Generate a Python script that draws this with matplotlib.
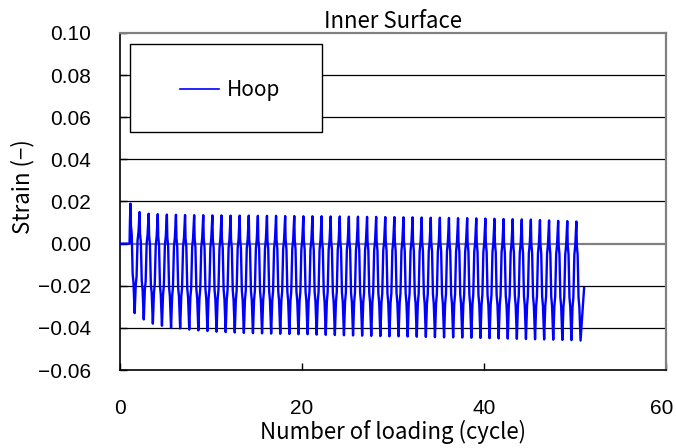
import matplotlib
matplotlib.use("Agg")
import matplotlib.pyplot as plt
import matplotlib.transforms as mtransforms
from matplotlib.patches import Rectangle
import numpy as np

# Hoop strain on the inner surface, one peak/trough pair per loading cycle
first_peak_cycle = 1.15
peak_strain = [
    0.0190, 0.0150, 0.0142, 0.0140, 0.0138, 0.0137, 0.0136, 0.0135, 0.0135, 0.0134,
    0.0134, 0.0133, 0.0133, 0.0133, 0.0132, 0.0132, 0.0132, 0.0131, 0.0131, 0.0130,
    0.0130, 0.0130, 0.0129, 0.0129, 0.0128, 0.0128, 0.0127, 0.0127, 0.0126, 0.0126,
    0.0125, 0.0125, 0.0124, 0.0123, 0.0123, 0.0122, 0.0121, 0.0121, 0.0120, 0.0119,
    0.0118, 0.0117, 0.0116, 0.0115, 0.0114, 0.0112, 0.0110, 0.0108, 0.0107, 0.0105,
]
trough_strain = [
    -0.0330, -0.0360, -0.0380, -0.0390, -0.0400, -0.0403, -0.0408, -0.0412, -0.0415, -0.0418,
    -0.0420, -0.0422, -0.0424, -0.0425, -0.0426, -0.0427, -0.0428, -0.0429, -0.0430, -0.0430,
    -0.0432, -0.0433, -0.0434, -0.0435, -0.0436, -0.0437, -0.0438, -0.0439, -0.0440, -0.0440,
    -0.0441, -0.0442, -0.0443, -0.0444, -0.0445, -0.0445, -0.0446, -0.0447, -0.0448, -0.0449,
    -0.0450, -0.0451, -0.0452, -0.0453, -0.0454, -0.0455, -0.0456, -0.0457, -0.0458, -0.0460,
]
end_strain = -0.021

# shape of one cycle: (phase, fraction between trough=0 and peak=1)
down_knots = [(0.00, 1.00), (0.05, 0.80), (0.14, 0.72), (0.24, 0.36), (0.33, 0.28), (0.46, 0.00)]
up_knots = [(0.58, 0.28), (0.67, 0.36), (0.78, 0.72), (0.88, 0.80)]

xs = [0.0, first_peak_cycle - 0.1, first_peak_cycle - 0.06]
ys = [0.0, 0.0, 0.010]
for k, (pk, tr) in enumerate(zip(peak_strain, trough_strain)):
    c0 = first_peak_cycle + k
    for ph, f in down_knots:
        xs.append(c0 + ph)
        ys.append(tr + f * (pk - tr))
    if k + 1 < len(peak_strain):
        nxt = peak_strain[k + 1]
        for ph, f in up_knots:
            xs.append(c0 + ph)
            ys.append(tr + f * (nxt - tr))
    else:
        xs.append(c0 + 0.85)
        ys.append(end_strain)

label_font = ["Noto Sans CJK JP", "DejaVu Sans"]
plt.rcParams["font.family"] = ["Liberation Sans", "DejaVu Sans"]

fig = plt.figure(figsize=(6.76, 4.48), dpi=100)
ax = fig.add_axes([120 / 676, 1 - 370 / 448, 546 / 676, 337 / 448])

ax.set_xlim(0, 60)
ax.set_ylim(-0.06, 0.10)
ax.set_xticks([0, 20, 40, 60])
ax.set_yticks(np.arange(-0.06, 0.1001, 0.02))
ax.yaxis.set_major_formatter(matplotlib.ticker.FuncFormatter(
    lambda v, _: f"{v:.2f}".replace("-", "\u2212") if abs(v) > 1e-9 else "0.00"))
ax.tick_params(direction="in", length=5, labelsize=15, width=1, color="black")
ax.tick_params(axis="x", pad=21)
ax.tick_params(axis="y", pad=21)

# keep the last x tick label inside the figure
last = ax.get_xticklabels()[-1]
last.set_transform(last.get_transform()
                   + mtransforms.ScaledTranslation(-4 / 100, 0, fig.dpi_scale_trans))

for y in [-0.04, -0.02, 0.02, 0.04, 0.06, 0.08]:
    ax.axhline(y, color="black", lw=0.9, zorder=1)
ax.axhline(0.0, color="#808080", lw=1.6, zorder=1)

for side in ["top", "right"]:
    ax.spines[side].set_color("#808080")
    ax.spines[side].set_linewidth(1.6)
for side in ["left", "bottom"]:
    ax.spines[side].set_color("black")
    ax.spines[side].set_linewidth(1.2)

ax.plot(xs, ys, color="#0000FF", lw=1.7, label="Hoop", zorder=3)

# legend box with the entry centred inside it
box = Rectangle((10 / 546, 1 - 99 / 337), 192 / 546, 88 / 337, transform=ax.transAxes,
                facecolor="white", edgecolor="black", lw=1.0, zorder=4)
ax.add_patch(box)
leg = ax.legend(loc="center", bbox_to_anchor=(110 / 546, 1 - 57 / 337),
                frameon=False, borderaxespad=0, borderpad=0,
                prop={"family": label_font, "size": 15}, handlelength=1.9,
                handletextpad=0.35)
leg.set_zorder(5)
leg.get_lines()[0].set_linewidth(1.2)

ax.set_title("Inner Surface", fontfamily=label_font, fontsize=16, pad=3)
ax.set_xlabel("Number of loading (cycle)", fontfamily=label_font, fontsize=16, labelpad=1)
ax.set_ylabel("Strain (−)", fontfamily=label_font, fontsize=16)
ax.yaxis.set_label_coords(-0.157, 0.545)

fig.savefig("out.png", dpi=100)
